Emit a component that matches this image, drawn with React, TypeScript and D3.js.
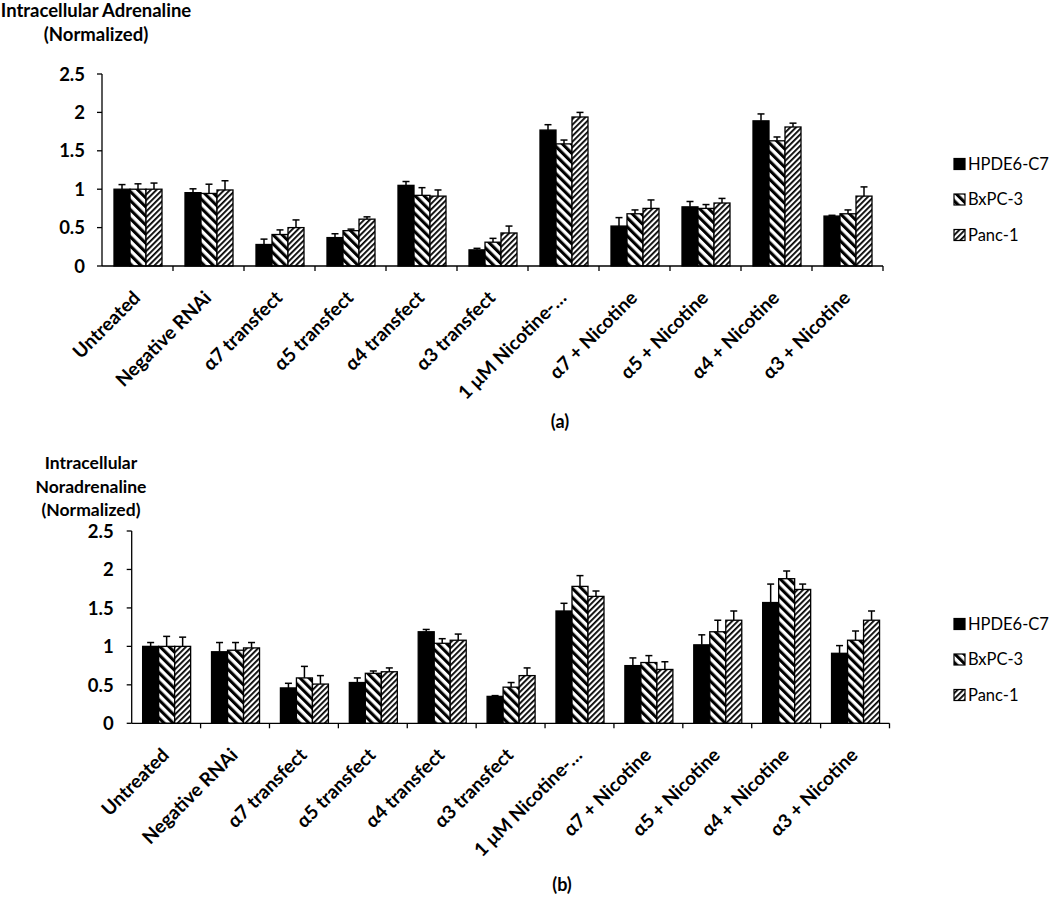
import React from "react";
import * as d3 from "d3";

const categories = [
  "Untreated",
  "Negative RNAi",
  "α7 transfect",
  "α5 transfect",
  "α4 transfect",
  "α3 transfect",
  "1 μM Nicotine-…",
  "α7 + Nicotine",
  "α5 + Nicotine",
  "α4 + Nicotine",
  "α3 + Nicotine",
];
const seriesNames = ["HPDE6-C7", "BxPC-3", "Panc-1"];
const yTicks = [0, 0.5, 1, 1.5, 2, 2.5];

// (a) Adrenaline
const adrHPDE = [1.0, 0.955, 0.28, 0.37, 1.05, 0.21, 1.77, 0.52, 0.77, 1.89, 0.65];
const adrHPDEErr = [0.06, 0.05, 0.07, 0.05, 0.05, 0.02, 0.07, 0.11, 0.07, 0.09, 0.01];
const adrBxPC = [1.0, 0.945, 0.41, 0.46, 0.92, 0.31, 1.59, 0.68, 0.75, 1.63, 0.68];
const adrBxPCErr = [0.07, 0.12, 0.06, 0.02, 0.1, 0.05, 0.05, 0.05, 0.05, 0.05, 0.05];
const adrPanc = [1.0, 0.99, 0.5, 0.61, 0.91, 0.43, 1.94, 0.75, 0.82, 1.81, 0.91];
const adrPancErr = [0.08, 0.12, 0.1, 0.03, 0.08, 0.09, 0.06, 0.11, 0.06, 0.05, 0.12];

// (b) Noradrenaline
const norHPDE = [1.0, 0.93, 0.46, 0.53, 1.19, 0.35, 1.46, 0.75, 1.02, 1.57, 0.91];
const norHPDEErr = [0.05, 0.12, 0.06, 0.06, 0.03, 0.01, 0.1, 0.1, 0.13, 0.24, 0.1];
const norBxPC = [1.0, 0.95, 0.59, 0.65, 1.04, 0.47, 1.78, 0.79, 1.19, 1.88, 1.08];
const norBxPCErr = [0.13, 0.1, 0.15, 0.03, 0.06, 0.06, 0.14, 0.09, 0.15, 0.1, 0.12];
const norPanc = [1.0, 0.98, 0.51, 0.67, 1.08, 0.62, 1.65, 0.7, 1.34, 1.74, 1.34];
const norPancErr = [0.12, 0.07, 0.11, 0.05, 0.08, 0.1, 0.07, 0.1, 0.12, 0.07, 0.12];

const titleA = ["Intracellular Adrenaline", "(Normalized)"];
const titleB = ["Intracellular", "Noradrenaline", "(Normalized)"];

const FONT = "Lato, 'Open Sans', sans-serif";
const fills = ["#000", "url(#patBx)", "url(#patPanc)"];

type ChartProps = {
  values: number[][];
  errors: number[][];
  x0: number;
  x1: number;
  yTop: number;
  yBase: number;
  title: string[];
  titleX: number;
  titleY: number;
  titleSize: number;
  titleStep: number;
  tickGap: number;
  legendX: number;
  legendY: number;
  caption: string;
  captionX: number;
  captionY: number;
};

function Chart(p: ChartProps) {
  const x = d3.scaleBand<string>().domain(categories).range([p.x0, p.x1]).paddingInner(0).paddingOuter(0);
  const y = d3.scaleLinear().domain([0, 2.5]).range([p.yBase, p.yTop]);
  const barW = 16;
  const groupW = barW * 3;
  const xs = d3.scaleBand<string>().domain(seriesNames).range([0, groupW]);
  return (
    <g>
      {p.title.map((t, i) => (
        <text key={t} x={p.titleX} y={p.titleY + i * p.titleStep} textAnchor="middle" fontFamily={FONT} fontWeight="bold" fontSize={p.titleSize} fill="#000">
          {t}
        </text>
      ))}
      {/* bars */}
      {categories.map((c, ci) => {
        const gx = (x(c) as number) + x.bandwidth() / 2 - groupW / 2 + 0.5;
        return (
          <g key={c}>
            {seriesNames.map((s, si) => {
              const v = p.values[si][ci];
              const e = p.errors[si][ci];
              const bx = gx + (xs(s) as number);
              const cx = bx + barW / 2;
              return (
                <g key={s}>
                  <line x1={cx} x2={cx} y1={y(v)} y2={y(v + e)} stroke="#000" strokeWidth={1.5} />
                  <line x1={cx - 3.5} x2={cx + 3.5} y1={y(v + e)} y2={y(v + e)} stroke="#000" strokeWidth={1.5} />
                  <rect x={bx} y={y(v)} width={barW} height={p.yBase - y(v)} fill={fills[si]} stroke="#000" strokeWidth={1.3} />
                </g>
              );
            })}
          </g>
        );
      })}
      {/* y axis */}
      <line x1={p.x0} x2={p.x0} y1={p.yTop} y2={p.yBase} stroke="#000" strokeWidth={1.3} />
      {yTicks.map((t) => (
        <g key={t}>
          <line x1={p.x0 - 5} x2={p.x0} y1={y(t)} y2={y(t)} stroke="#000" strokeWidth={1.3} />
          <text x={p.x0 - p.tickGap} y={y(t)} dy="0.36em" textAnchor="end" fontFamily={FONT} fontWeight="bold" fontSize={18.5} fill="#000">
            {String(t)}
          </text>
        </g>
      ))}
      {/* x axis */}
      <line x1={p.x0} x2={p.x1} y1={p.yBase} y2={p.yBase} stroke="#000" strokeWidth={1.3} />
      {categories.map((c) => (
        <line key={"t" + c} x1={(x(c) as number) + x.bandwidth()} x2={(x(c) as number) + x.bandwidth()} y1={p.yBase} y2={p.yBase + 5} stroke="#000" strokeWidth={1.3} />
      ))}
      {categories.map((c) => {
        const lx = (x(c) as number) + x.bandwidth() / 2 + 4;
        const ly = p.yBase + 33;
        return (
          <text key={"l" + c} x={lx} y={ly} transform={`rotate(-45 ${lx} ${ly})`} textAnchor="end" fontFamily={FONT} fontWeight="bold" fontSize={19} fill="#000">
            {c}
          </text>
        );
      })}
      {/* legend */}
      {seriesNames.map((s, si) => {
        const ly = p.legendY + si * 35.5;
        return (
          <g key={"lg" + s}>
            <rect x={p.legendX} y={ly - 5.5} width={11} height={11} fill={fills[si]} stroke="#000" strokeWidth={1.2} />
            <text x={p.legendX + 14} y={ly} dy="0.36em" fontFamily={FONT} fontSize={16.5} fill="#000">
              {s}
            </text>
          </g>
        );
      })}
      <text x={p.captionX} y={p.captionY} dy="0.35em" textAnchor="middle" fontFamily={FONT} fontWeight="bold" fontSize={18} fill="#000">
        {p.caption}
      </text>
    </g>
  );
}

export default function App() {
  return (
    <svg width={1050} height={897} style={{ position: "absolute", left: 0, top: 0, background: "#fff" }}>
      <defs>
        <pattern id="patBx" patternUnits="userSpaceOnUse" width={6.4} height={6.4} patternTransform="rotate(-45)">
          <rect width={6.4} height={6.4} fill="#fff" />
          <rect width={3.1} height={6.4} fill="#000" />
        </pattern>
        <pattern id="patPanc" patternUnits="userSpaceOnUse" width={4} height={4} patternTransform="rotate(45)">
          <rect width={4} height={4} fill="#fff" />
          <rect width={1.8} height={4} fill="#000" />
        </pattern>
      </defs>
      <rect width={1050} height={897} fill="#fff" />
      <Chart
        values={[adrHPDE, adrBxPC, adrPanc]}
        errors={[adrHPDEErr, adrBxPCErr, adrPancErr]}
        x0={102}
        x1={883}
        yTop={74}
        yBase={266}
        title={titleA}
        titleX={96}
        titleY={17}
        titleSize={18.5}
        titleStep={23.5}
        tickGap={17}
        legendX={954}
        legendY={164}
        caption="(a)"
        captionX={560}
        captionY={422}
      />
      <Chart
        values={[norHPDE, norBxPC, norPanc]}
        errors={[norHPDEErr, norBxPCErr, norPancErr]}
        x0={131.7}
        x1={889.5}
        yTop={531}
        yBase={723.3}
        title={titleB}
        titleX={91}
        titleY={469}
        titleSize={17.5}
        titleStep={23.5}
        tickGap={18}
        legendX={954}
        legendY={624}
        caption="(b)"
        captionX={562}
        captionY={885}
      />
    </svg>
  );
}
